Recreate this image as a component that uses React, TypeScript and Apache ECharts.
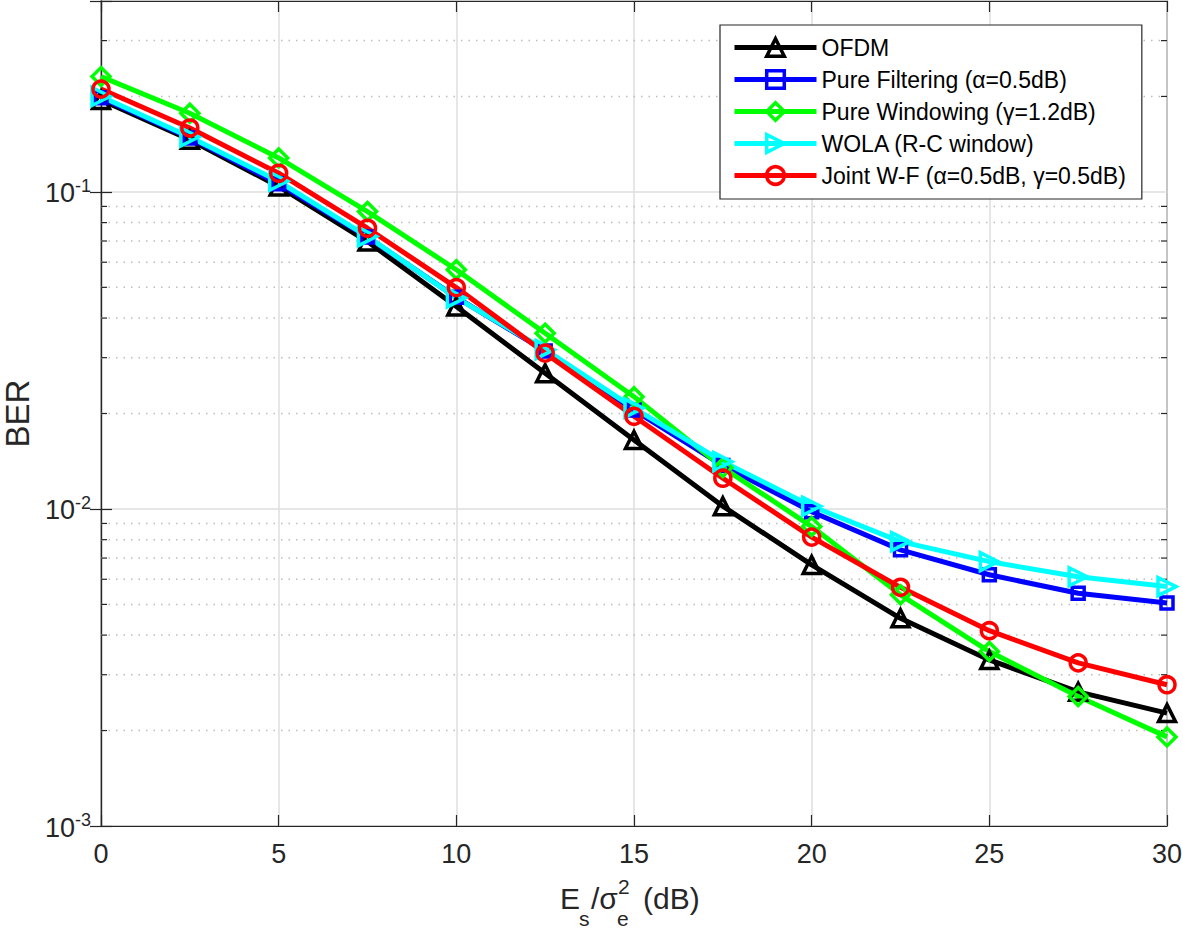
import React, { useEffect, useRef } from "react";
import * as echarts from "echarts";

const xValues = [0, 2.5, 5, 7.5, 10, 12.5, 15, 17.5, 20, 22.5, 25, 27.5, 30];
const ofdm = [0.195, 0.146, 0.104, 0.0697, 0.0435, 0.0268, 0.0165, 0.0102, 0.00666, 0.00452, 0.00334, 0.00265, 0.00227];
const pureFiltering = [0.198, 0.148, 0.106, 0.072, 0.0465, 0.0315, 0.0205, 0.0137, 0.0098, 0.00743, 0.0062, 0.00542, 0.00505];
const pureWindowing = [0.231, 0.177, 0.128, 0.0867, 0.0568, 0.0358, 0.0226, 0.0135, 0.0088, 0.00536, 0.00355, 0.00256, 0.00191];
const wola = [0.2, 0.149, 0.108, 0.0723, 0.0463, 0.0318, 0.0208, 0.0141, 0.0102, 0.00789, 0.00682, 0.00611, 0.00569];
const jointWF = [0.211, 0.159, 0.1145, 0.0768, 0.0499, 0.031, 0.0196, 0.0125, 0.00815, 0.00566, 0.00413, 0.00327, 0.00279];

const seriesNames = [
  "OFDM",
  "Pure Filtering (α=0.5dB)",
  "Pure Windowing (γ=1.2dB)",
  "WOLA (R-C window)",
  "Joint W-F (α=0.5dB, γ=0.5dB)",
];
const minorTickValues = [
  0.002, 0.003, 0.004, 0.005, 0.006, 0.007, 0.008, 0.009,
  0.02, 0.03, 0.04, 0.05, 0.06, 0.07, 0.08, 0.09,
  0.2, 0.3,
];

const FONT = "'Liberation Sans', Arial, Helvetica, sans-serif";
const AX = "#262626";

export default function App() {
  const ref = useRef<HTMLDivElement>(null);
  useEffect(() => {
    if (!ref.current) return;
    const chart = echarts.init(ref.current, null, { renderer: "svg" });
    const zip = (ys: number[]) => xValues.map((x, i) => [x, ys[i]]);
    const mk = (name: string, ys: number[], color: string, symbol: string, size: number, rotate = 0) => ({
      name,
      type: "line",
      data: zip(ys),
      symbol,
      symbolSize: size,
      symbolRotate: rotate,
      showAllSymbol: true,
      lineStyle: { color, width: 5 },
      itemStyle: { color: "rgba(255,255,255,0)", borderColor: color, borderWidth: 3.5 },
      z: 3,
    });
    const option: any = {
      animation: false,
      grid: {
        left: 101, right: 16, top: 1, bottom: 110,
        containLabel: false, outerBoundsMode: "none",
        show: true, borderColor: AX, borderWidth: 1.2, backgroundColor: "transparent",
      },
      legend: {
        data: seriesNames,
        orient: "vertical",
        left: 720,
        top: 25,
        padding: [11, 16, 12, 12],
        itemWidth: 82,
        itemHeight: 22,
        itemGap: 9,
        borderColor: AX,
        borderWidth: 1.2,
        backgroundColor: "#fff",
        lineStyle: { width: 5 },
        itemStyle: { borderWidth: 3.5 },
        textStyle: { fontFamily: FONT, fontSize: 23, color: "#000" },
      },
      xAxis: [
        {
          type: "value",
          min: 0,
          max: 30,
          interval: 5,
          axisLine: { show: true, lineStyle: { color: AX, width: 1.2 } },
          axisTick: { show: true, inside: true, length: 11, lineStyle: { color: AX, width: 1.2 } },
          axisLabel: { fontFamily: FONT, fontSize: 27, color: AX, margin: 14 },
          splitLine: { show: true, lineStyle: { color: "#dedede", width: 1.5 } },
        },
        {
          type: "value",
          position: "top",
          min: 0,
          max: 30,
          interval: 5,
          axisLine: { show: true, lineStyle: { color: AX, width: 1.2 } },
          axisTick: { show: true, inside: true, length: 11, lineStyle: { color: AX, width: 1.2 } },
          axisLabel: { show: false },
          splitLine: { show: false },
        },
      ],
      yAxis: [
        {
          type: "log",
          logBase: 10,
          min: 0.001,
          max: 0.4,
          interval: 1,
          name: "BER",
          nameLocation: "middle",
          nameGap: 65,
          nameTextStyle: { fontFamily: FONT, fontSize: 33, color: AX },
          axisLine: { show: true, lineStyle: { color: AX, width: 1.2 } },
          axisTick: { show: true, inside: true, length: 11, lineStyle: { color: AX, width: 1.2 } },
          axisLabel: {
            margin: 10,
            color: AX,
            formatter: (v: number) => {
              const e = Math.log10(v);
              const r = Math.round(e);
              if (Math.abs(e - r) > 1e-6) return "";
              return `{b|10}{s|${r}}`;
            },
            rich: {
              b: { fontFamily: FONT, fontSize: 27, color: AX, verticalAlign: "bottom", lineHeight: 30 },
              s: { fontFamily: FONT, fontSize: 18, color: AX, verticalAlign: "top", lineHeight: 30, padding: [0, 0, 10, 0] },
            },
          },
          splitLine: { show: true, lineStyle: { color: "#dedede", width: 1.5 } },
        },
        {
          type: "log",
          logBase: 10,
          min: 0.001,
          max: 0.4,
          interval: 1,
          position: "right",
          axisLine: { show: true, lineStyle: { color: AX, width: 1.2 } },
          axisTick: { show: true, inside: true, length: 11, lineStyle: { color: AX, width: 1.2 } },
          axisLabel: { show: false },
          splitLine: { show: false },
        },
      ],
      graphic: [
        {
          type: "group",
          children: [
            { type: "text", x: 560, y: 898, style: { text: "E", font: `30px ${FONT}`, fill: AX, verticalAlign: "middle" } },
            { type: "text", x: 579, y: 918, style: { text: "s", font: `21px ${FONT}`, fill: AX, verticalAlign: "middle" } },
            { type: "text", x: 591, y: 898, style: { text: "/σ", font: `30px ${FONT}`, fill: AX, verticalAlign: "middle" } },
            { type: "text", x: 618, y: 886, style: { text: "2", font: `21px ${FONT}`, fill: AX, verticalAlign: "middle" } },
            { type: "text", x: 617, y: 918, style: { text: "e", font: `21px ${FONT}`, fill: AX, verticalAlign: "middle" } },
            { type: "text", x: 643, y: 898, style: { text: "(dB)", font: `30px ${FONT}`, fill: AX, verticalAlign: "middle" } },
          ],
        },
      ],
      series: [
        {
          type: "custom",
          name: "minor",
          silent: true,
          z: 1,
          clip: false,
          data: minorTickValues.map((v) => [0, v]),
          renderItem: (params: any, api: any) => {
            const cs = params.coordSys;
            const p = api.coord([0, api.value(1)]);
            const y = p[1];
            const x0 = cs.x;
            const x1 = cs.x + cs.width;
            return {
              type: "group",
              children: [
                { type: "line", shape: { x1: x0, y1: y, x2: x1, y2: y }, style: { stroke: "#bdbdbd", lineWidth: 1.5, lineDash: [1.5, 6] } },
                { type: "line", shape: { x1: x0, y1: y, x2: x0 + 6, y2: y }, style: { stroke: AX, lineWidth: 1.2 } },
                { type: "line", shape: { x1: x1 - 6, y1: y, x2: x1, y2: y }, style: { stroke: AX, lineWidth: 1.2 } },
              ],
            };
          },
        },
        mk(seriesNames[0], ofdm, "#000000", "triangle", 17),
        mk(seriesNames[1], pureFiltering, "#0000ff", "rect", 12),
        mk(seriesNames[2], pureWindowing, "#00ff00", "diamond", 18),
        mk(seriesNames[3], wola, "#00ffff", "triangle", 18, -90),
        mk(seriesNames[4], jointWF, "#ff0000", "circle", 16),
      ],
    };
    chart.setOption(option);
    return () => chart.dispose();
  }, []);
  return <div ref={ref} style={{ position: "fixed", left: 0, top: 0, width: 1183, height: 936, background: "#fff" }} />;
}
